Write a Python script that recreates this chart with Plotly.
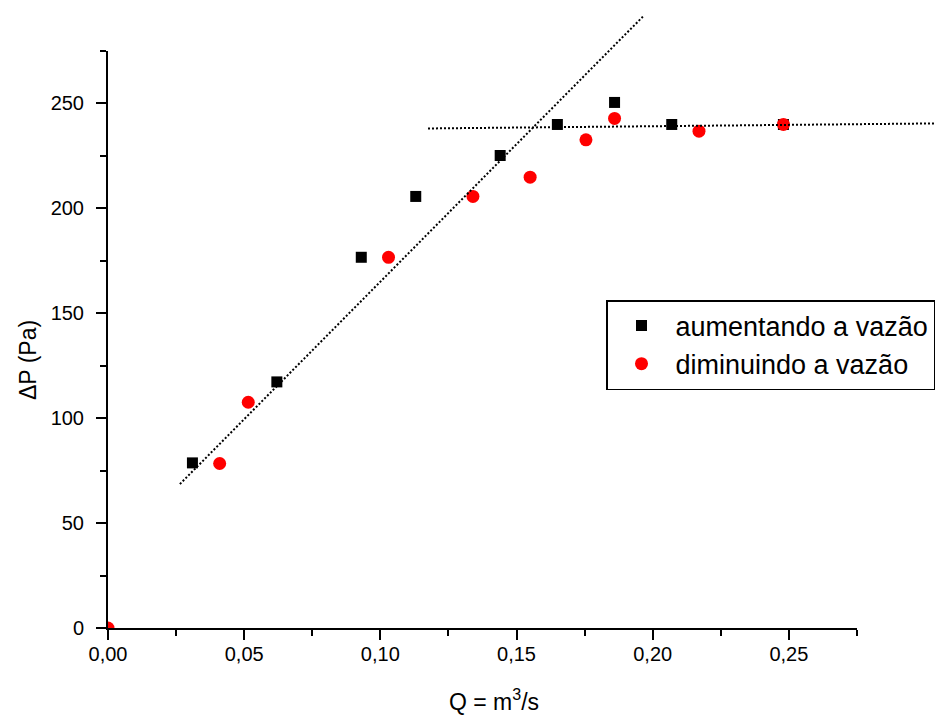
import plotly.graph_objects as go

# ---------------- data ----------------
q_aumentando = [0.031, 0.062, 0.093, 0.113, 0.144, 0.165, 0.186, 0.207, 0.248]
dp_aumentando = [78.7, 117.3, 176.7, 205.7, 225.2, 240.0, 250.5, 240.0, 240.0]

q_diminuindo = [0.000, 0.041, 0.0515, 0.103, 0.134, 0.155, 0.1755, 0.186, 0.217, 0.248]
dp_diminuindo = [0.0, 78.4, 107.6, 176.7, 205.7, 214.9, 232.7, 242.9, 236.8, 240.0]

# dotted guide lines (endpoints)
fit1_q = [0.0264, 0.1964]
fit1_dp = [68.6, 291.4]
fit2_q = [0.1175, 0.3036]
fit2_dp = [238.1, 240.5]

x_ticks_range = [0, 0.27502]
y_ticks_range = [0, 275.02]

# ---------------- layout geometry ----------------
W, H = 952, 716
x_dom = [108 / W, 857 / W]
y_dom = [1 - 628 / H, 1 - 51 / H]


def full_range(rng, dom):
    span = (rng[1] - rng[0]) / (dom[1] - dom[0])
    lo = rng[0] - dom[0] * span
    return [lo, lo + span]


font_family = "Liberation Sans, Arial, sans-serif"

fig = go.Figure()

fig.add_trace(go.Scatter(
    x=q_aumentando, y=dp_aumentando, mode="markers",
    name="aumentando a vazão",
    marker=dict(symbol="square", size=11, color="black"),
    xaxis="x", yaxis="y",
))
fig.add_trace(go.Scatter(
    x=q_diminuindo, y=dp_diminuindo, mode="markers",
    name="diminuindo a vazão",
    marker=dict(symbol="circle", size=13, color="#ff0000"),
    xaxis="x", yaxis="y",
))

# guide lines on a full-figure overlay so they are not clipped by the plot area
for fx, fy in [(fit1_q, fit1_dp), (fit2_q, fit2_dp)]:
    fig.add_trace(go.Scatter(
        x=fx, y=fy, mode="lines", showlegend=False,
        line=dict(color="black", width=2, dash="2px,2px"),
        xaxis="x2", yaxis="y2", hoverinfo="skip",
    ))

axis_common = dict(
    showline=True, linecolor="black", linewidth=2,
    ticks="outside", ticklen=10, tickwidth=2, tickcolor="black",
    showgrid=False, zeroline=False, automargin=False,
    tickfont=dict(size=20, color="black", family=font_family),
)

fig.update_layout(
    width=W, height=H,
    margin=dict(l=0, r=0, t=0, b=0, autoexpand=False),
    paper_bgcolor="white",
    plot_bgcolor="rgba(0,0,0,0)",
    separators=",.",
    font=dict(family=font_family, color="black"),
    xaxis=dict(
        domain=x_dom, range=x_ticks_range, anchor="y",
        tick0=0, dtick=0.05, tickformat=".2f",
        minor=dict(ticks="outside", ticklen=6, tickwidth=2, tickcolor="black", dtick=0.025),
        ticklabelstandoff=-3,
        **axis_common,
    ),
    yaxis=dict(
        domain=y_dom, range=y_ticks_range, anchor="x",
        tick0=0, dtick=50,
        minor=dict(ticks="outside", ticklen=6, tickwidth=2, tickcolor="black", dtick=25),
        ticklabelstandoff=8,
        **axis_common,
    ),
    xaxis2=dict(domain=[0, 1], range=full_range(x_ticks_range, x_dom),
                anchor="y2", visible=False, fixedrange=True),
    yaxis2=dict(domain=[0, 1], range=full_range(y_ticks_range, y_dom),
                anchor="x2", visible=False, fixedrange=True),
    legend=dict(
        x=606 / W, y=1 - 345 / H, xanchor="left", yanchor="middle",
        bgcolor="white", bordercolor="black", borderwidth=1.5,
        font=dict(size=27, color="black", family=font_family),
        itemwidth=58,
    ),
    annotations=[
        dict(text="Q = m<sup>3</sup>/s", x=494 / W, y=1 - 700 / H,
             xref="paper", yref="paper", showarrow=False,
             font=dict(size=23, color="black", family=font_family),
             xanchor="center", yanchor="middle"),
        dict(text="ΔP (Pa)", x=28 / W, y=1 - 360 / H, textangle=-90,
             xref="paper", yref="paper", showarrow=False,
             font=dict(size=23, color="black", family=font_family),
             xanchor="center", yanchor="middle"),
    ],
)

fig.write_html("out.html")
